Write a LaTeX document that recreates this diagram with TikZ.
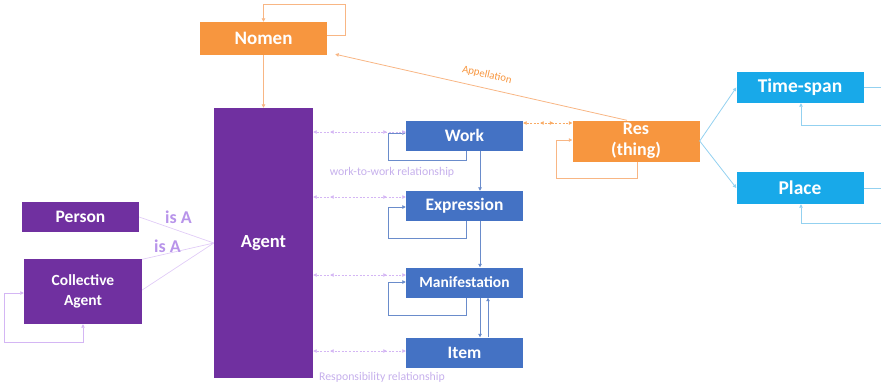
\documentclass[tikz,border=0pt]{standalone}
\usepackage{fontspec}
\setmainfont{Carlito}
\usetikzlibrary{arrows.meta,decorations.markings,calc}

\definecolor{cOrange}{HTML}{F7963F}
\definecolor{cPurple}{HTML}{7030A0}
\definecolor{cBlue}{HTML}{4472C4}
\definecolor{cCyan}{HTML}{18A9E9}
\definecolor{lOrange}{HTML}{F8B684}
\definecolor{lBlue}{HTML}{6A8CCB}
\definecolor{lCyan}{HTML}{93D1F0}
\definecolor{lLav}{HTML}{D4B6F4}
\definecolor{tLav}{HTML}{B894EA}
\definecolor{tLavLight}{HTML}{C6B0EC}

\tikzset{
  box/.style={draw=none, fill=#1, text=white, font=\bfseries\fontsize{17.5}{19}\selectfont,
    align=center, inner sep=0pt},
  tip/.tip={Triangle[length=3.5pt,width=3.5pt]},
  oline/.style={draw=lOrange, line width=0.8pt},
  bline/.style={draw=lBlue, line width=0.8pt},
  cline/.style={draw=lCyan, line width=0.8pt},
  pline/.style={draw=lLav!70, line width=0.7pt},
  isalabel/.style={text=tLav, font=\bfseries\fontsize{18}{20}\selectfont},
  rellabel/.style={text=tLavLight, font=\fontsize{11.8}{13}\selectfont},
  twotips/.style={line width=0.7pt, dash pattern=on 2pt off 1.6pt, {tip}-{tip},
    postaction={decorate},
    decoration={markings,
      mark=at position 17pt with {\arrowreversed{tip}},
      mark=at position -19pt with {\arrow{tip}}}},
}

\begin{document}
\begin{tikzpicture}[x=1pt,y=-1pt]
\useasboundingbox (0,0) rectangle (881,384);

% ---- boxes ----
\node[box=cOrange, minimum width=127pt, minimum height=33pt,
      font=\bfseries\fontsize{19}{21}\selectfont] (nomen) at (263.5,38.5) {Nomen};
\node[box=cPurple, minimum width=99pt, minimum height=270pt,
      font=\bfseries\fontsize{18.5}{20}\selectfont] (agent) at (263.5,243) {Agent};
\node[box=cPurple, minimum width=117pt, minimum height=30pt] (person) at (80.5,217) {Person};
\node[box=cPurple, minimum width=118pt, minimum height=65pt,
      font=\bfseries\fontsize{15.5}{20}\selectfont] (coll) at (83,291.5) {Collective\\Agent};

\node[box=cBlue, minimum width=117pt, minimum height=30pt] (work) at (464.5,135.5) {Work};
\node[box=cBlue, minimum width=117pt, minimum height=30pt] (expr) at (464.5,206) {Expression};
\node[box=cBlue, minimum width=117pt, minimum height=30pt,
      font=\bfseries\fontsize{15.5}{17}\selectfont] (manif) at (464.5,282.5) {Manifestation};
\node[box=cBlue, minimum width=117pt, minimum height=30pt] (item) at (464.5,352.5) {Item};

\node[box=cOrange, minimum width=127pt, minimum height=41pt,
      font=\bfseries\fontsize{18}{21}\selectfont] (res) at (636,141) {Res\\(thing)};
\node[box=cCyan, minimum width=127pt, minimum height=31pt,
      font=\bfseries\fontsize{19.5}{21}\selectfont] (ts) at (800,87.5) {Time-span};
\node[box=cCyan, minimum width=127pt, minimum height=32pt,
      font=\bfseries\fontsize{19.5}{21}\selectfont] (pl) at (800,188) {Place};

% ---- Nomen ----
\draw[oline, -{tip}] ($(nomen.east)+(0,-3.5)$) -- ++(18,0) |- ($(nomen.north)+(0,-17)$) -- (nomen.north);
\draw[oline, -{tip}] (nomen.south) -- (agent.north);
\draw[oline, -{tip}] ($(res.north)+(-9,0)$) -- ($(nomen.south east)+(8,-1)$)
  node[pos=0.49, sloped, above=5pt, text=cOrange, font=\fontsize{10.8}{12}\selectfont] {Appellation};

% ---- Res ----
\draw[draw=cOrange!80, twotips] ($(work.east)+(0,-12.5)$) -- ($(res.west)+(0,-18)$);
\draw[oline, -{tip}] ($(res.south)+(1,0)$) -- ++(0,17) -- ++(-81,0) |- ($(res.west)+(0,-1)$);
\draw[cline, -{tip}] (res.east) -- (ts.west);
\draw[cline, -{tip}] (res.east) -- (pl.west);
\draw[cline, -{tip}] (ts.east) -- ++(25,0) |- ($(ts.south)+(1,22)$) -- ($(ts.south)+(1,0)$);
\draw[cline, -{tip}] (pl.east) -- ++(25,0) |- ($(pl.south)+(1,19)$) -- ($(pl.south)+(1,0)$);

% ---- WEMI chain ----
\draw[bline, -{tip}] ($(work.south)+(15.5,0)$) -- ($(expr.north)+(15.5,0)$);
\draw[bline, -{tip}] ($(expr.south)+(15.5,0)$) -- ($(manif.north)+(15.5,0)$);
\draw[bline, -{tip}] ($(manif.south)+(15.5,0)$) -- ($(item.north)+(15.5,0)$);
\draw[bline, -{tip}] ($(item.north)+(23.5,0)$) -- ($(manif.south)+(23.5,0)$);

\draw[bline, -{tip}] ($(work.south)+(1.5,0)$) -- ++(0,10) -- ++(-78,0) |- ($(work.west)+(0,-2.5)$);
\draw[bline, -{tip}] ($(expr.south)+(1.5,0)$) -- ++(0,17) -- ++(-78,0) |- ($(expr.west)+(0,1)$);
\draw[bline, -{tip}] ($(manif.south)+(1.5,0)$) -- ++(0,17.5) -- ++(-78,0) |- ($(manif.west)+(0,-0.5)$);

% ---- Agent responsibilities ----
\draw[draw=lLav, twotips] ($(agent.east |- work.west)+(0,-3.5)$) -- ($(work.west)+(0,-3.5)$);
\draw[draw=lLav, twotips] ($(agent.east |- expr.west)+(0,-9)$) -- ($(expr.west)+(0,-9)$);
\draw[draw=lLav, twotips] ($(agent.east |- manif.west)+(0,-7.5)$) -- ($(manif.west)+(0,-7.5)$);
\draw[draw=lLav, twotips] ($(agent.east |- item.west)+(0,-1.5)$) -- ($(item.west)+(0,-1.5)$);

\node[rellabel] (wwlab) at (392,172) {work-to-work relationship};
\node[rellabel] (resplab) at (382,377) {Responsibility relationship};

% ---- is A ----
\draw[pline] (person.east) -- (agent.west);
\draw[pline] ($(coll.north east)+(0,0.5)$) -- (agent.west);
\draw[pline] ($(coll.east)+(0,-1.5)$) -- (agent.west);
\node[isalabel] (isa1) at (178.5,217) {is A};
\node[isalabel] (isa2) at (167.5,246.5) {is A};

\draw[draw=lLav, line width=0.7pt, {tip}-{tip}] ($(coll.west)+(0,1.5)$) -- ++(-19,0) |- ($(coll.south)+(0,18)$) -- (coll.south);
\end{tikzpicture}
\end{document}
